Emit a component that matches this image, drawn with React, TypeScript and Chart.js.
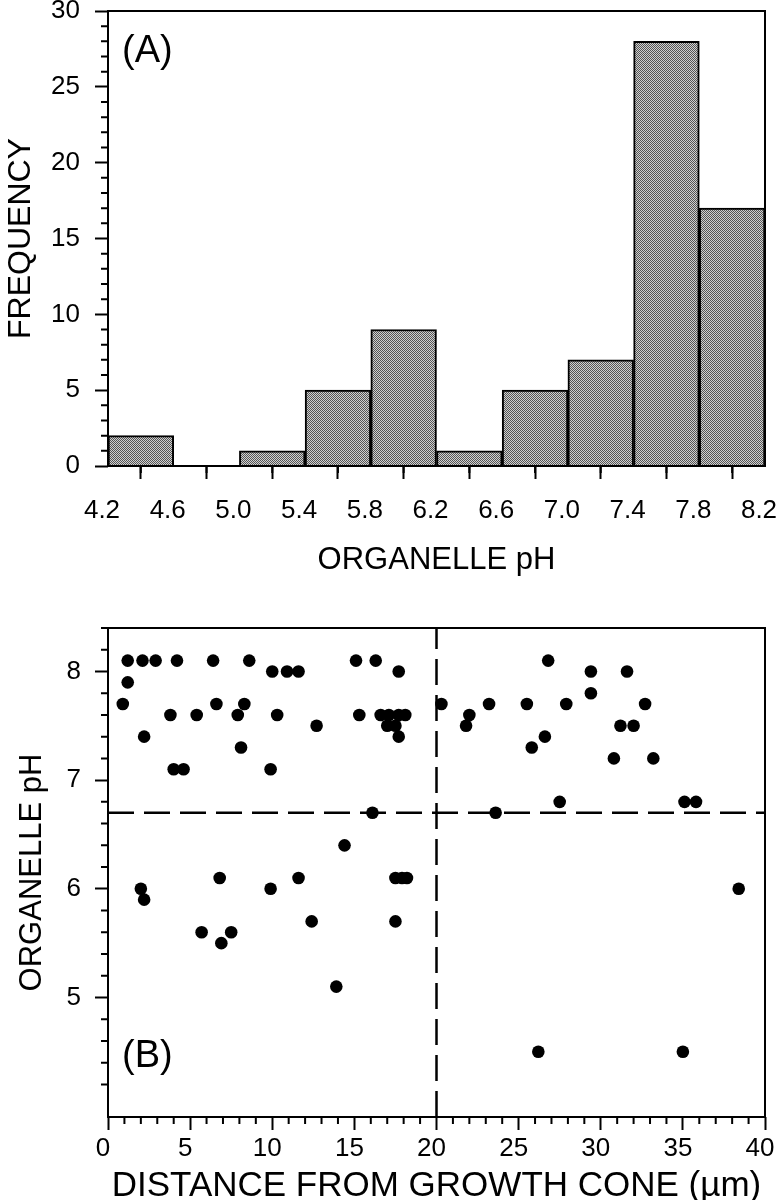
import React, { useEffect, useRef } from "react";
import { Chart, registerables } from "chart.js";

Chart.register(...registerables);

const FONT_FAMILY = "'Liberation Sans', Arial, Helvetica, sans-serif";

// ---------- Panel A: histogram of organelle pH ----------
const PH_BIN_CENTERS = [4.4, 4.8, 5.2, 5.6, 6.0, 6.4, 6.8, 7.2, 7.6, 8.0];
const FREQUENCY = [2, 0, 1, 5, 9, 1, 5, 7, 28, 17];
const PH_TICKS = [4.2, 4.6, 5.0, 5.4, 5.8, 6.2, 6.6, 7.0, 7.4, 7.8, 8.2];
const FREQ_TICKS = [0, 5, 10, 15, 20, 25, 30];

// ---------- Panel B: pH vs distance from growth cone ----------
const DISTANCE_UM = [
  1.2, 2.1, 2.9, 4.2, 6.4, 8.6, 15.1, 16.3, 10.0, 10.9,
  11.6, 17.7, 1.2, 0.9, 3.8, 5.4, 6.6, 7.9, 8.3, 10.3,
  12.7, 15.3, 16.6, 17.1, 17.7, 18.1, 17.0, 17.5, 17.7, 2.2,
  8.1, 4.0, 4.6, 9.9, 16.1, 14.4, 2.0, 2.2, 6.8, 9.9,
  11.6, 17.5, 17.9, 18.2, 5.7, 6.9, 7.5, 12.4, 17.5, 13.9,
  26.8, 29.4, 31.6, 29.4, 20.3, 23.2, 25.5, 27.9, 32.7, 22.0,
  21.8, 26.6, 25.8, 31.2, 32.0, 30.8, 33.2, 27.5, 35.1, 35.8,
  23.6, 38.4, 26.2, 35.0,
];
const ORGANELLE_PH = [
  8.1, 8.1, 8.1, 8.1, 8.1, 8.1, 8.1, 8.1, 8.0, 8.0,
  8.0, 8.0, 7.9, 7.7, 7.6, 7.6, 7.7, 7.6, 7.7, 7.6,
  7.5, 7.6, 7.6, 7.6, 7.6, 7.6, 7.5, 7.5, 7.4, 7.4,
  7.3, 7.1, 7.1, 7.1, 6.7, 6.4, 6.0, 5.9, 6.1, 6.0,
  6.1, 6.1, 6.1, 6.1, 5.6, 5.5, 5.6, 5.7, 5.7, 5.1,
  8.1, 8.0, 8.0, 7.8, 7.7, 7.7, 7.7, 7.7, 7.7, 7.6,
  7.5, 7.4, 7.3, 7.5, 7.5, 7.2, 7.2, 6.8, 6.8, 6.8,
  6.7, 6.0, 4.5, 4.5,
];
const DIST_TICKS = [0, 5, 10, 15, 20, 25, 30, 35, 40];
const PH_B_TICKS = [5, 6, 7, 8];
const PH_THRESHOLD = 6.7;
const DIST_THRESHOLD = 20;

function minorTicks(from: number, to: number, step: number, majorEvery: number) {
  const out: number[] = [];
  const n = Math.round((to - from) / step);
  for (let i = 0; i <= n; i++) {
    const v = Math.round((from + i * step) * 1000) / 1000;
    const r = v / majorEvery;
    if (Math.abs(r - Math.round(r)) > 1e-6) out.push(v);
  }
  return out;
}

function decorPlugin(label: string, atTop: boolean, xMinor: number[], yMinor: number[]) {
  return {
    id: "decor",
    afterDraw(chart: any) {
      const { ctx, chartArea: a, scales } = chart;
      ctx.save();
      ctx.strokeStyle = "#000";
      ctx.lineWidth = 2;
      ctx.strokeRect(a.left, a.top, a.right - a.left, a.bottom - a.top);
      ctx.beginPath();
      xMinor.forEach((v) => {
        const px = scales.x.getPixelForValue(v);
        ctx.moveTo(px, a.bottom);
        ctx.lineTo(px, a.bottom + 7);
      });
      yMinor.forEach((v) => {
        const py = scales.y.getPixelForValue(v);
        ctx.moveTo(a.left, py);
        ctx.lineTo(a.left - 7, py);
      });
      ctx.stroke();
      ctx.fillStyle = "#000";
      ctx.font = `38px ${FONT_FAMILY}`;
      ctx.textBaseline = "alphabetic";
      ctx.textAlign = "left";
      ctx.fillText(label, a.left + 14, atTop ? a.top + 51 : a.bottom - 50);
      ctx.restore();
    },
  };
}

function makePattern(ctx: CanvasRenderingContext2D) {
  const pc = document.createElement("canvas");
  pc.width = 4;
  pc.height = 4;
  const p = pc.getContext("2d")!;
  p.fillStyle = "#d0d0d0";
  p.fillRect(0, 0, 4, 4);
  p.fillStyle = "#555555";
  for (let i = 0; i < 4; i++)
    for (let j = 0; j < 4; j++) if ((i + j) % 2 === 0) p.fillRect(i, j, 1, 1);
  return ctx.createPattern(pc, "repeat");
}

const tickGrid = {
  display: true,
  drawOnChartArea: false,
  drawTicks: true,
  tickLength: 13,
  tickWidth: 2,
  tickColor: "#000",
};

export default function App() {
  const refA = useRef<HTMLCanvasElement>(null);
  const refB = useRef<HTMLCanvasElement>(null);

  useEffect(() => {
    const ctxA = refA.current!.getContext("2d")!;
    const pattern = makePattern(ctxA);
    const chartA = new Chart(ctxA, {
      type: "bar",
      data: {
        datasets: [
          {
            data: PH_BIN_CENTERS.map((x, i) => ({ x, y: FREQUENCY[i] })),
            backgroundColor: pattern as any,
            borderColor: "#000",
            borderWidth: 2,
            barPercentage: 1,
            categoryPercentage: 1,
          },
        ],
      },
      options: {
        responsive: false,
        animation: false,
        layout: { padding: { top: 11, right: 11, left: 0, bottom: 0 } },
        plugins: { legend: { display: false }, tooltip: { enabled: false } },
        scales: {
          x: {
            type: "linear",
            min: 4.2,
            max: 8.2,
            offset: false,
            grid: tickGrid,
            border: { display: false },
            afterBuildTicks: (s: any) => {
              s.ticks = PH_TICKS.map((value) => ({ value }));
            },
            afterFit: (s: any) => {
              s.height = 134;
              s.paddingLeft = 0;
              s.paddingRight = 0;
            },
            ticks: {
              autoSkip: false,
              maxRotation: 0,
              padding: 16,
              labelOffset: -6,
              color: "#000",
              font: { family: FONT_FAMILY, size: 26 },
              callback: (v: any) => Number(v).toFixed(1),
            },
            title: {
              display: true,
              text: "ORGANELLE pH",
              color: "#000",
              font: { family: FONT_FAMILY, size: 31 },
              padding: { top: 0, bottom: 21 },
            },
          },
          y: {
            min: 0,
            max: 30,
            grid: tickGrid,
            border: { display: false },
            afterBuildTicks: (s: any) => {
              s.ticks = FREQ_TICKS.map((value) => ({ value }));
            },
            afterFit: (s: any) => {
              s.width = 108;
              s.paddingTop = 0;
              s.paddingBottom = 0;
            },
            ticks: {
              padding: 15,
              color: "#000",
              font: { family: FONT_FAMILY, size: 26 },
            },
            title: {
              display: true,
              text: "FREQUENCY",
              color: "#000",
              font: { family: FONT_FAMILY, size: 32 },
              padding: { top: 2, bottom: 0 },
            },
          },
        },
      },
      plugins: [decorPlugin("(A)", true, PH_BIN_CENTERS, minorTicks(0, 30, 1, 5))],
    } as any);

    const ctxB = refB.current!.getContext("2d")!;
    const chartB = new Chart(ctxB, {
      type: "scatter",
      data: {
        datasets: [
          {
            data: DISTANCE_UM.map((x, i) => ({ x, y: ORGANELLE_PH[i] })),
            backgroundColor: "#000",
            borderWidth: 0,
            pointRadius: 6.3,
          },
          {
            type: "line",
            data: [
              { x: 0, y: PH_THRESHOLD },
              { x: 40, y: PH_THRESHOLD },
            ],
            borderColor: "#000",
            borderWidth: 2.5,
            borderDash: [26, 10],
            pointRadius: 0,
            showLine: true,
          },
          {
            type: "line",
            data: [
              { x: DIST_THRESHOLD, y: 3.9 },
              { x: DIST_THRESHOLD, y: 8.4 },
            ],
            borderColor: "#000",
            borderWidth: 2.5,
            borderDash: [26, 10],
            pointRadius: 0,
            showLine: true,
          },
        ],
      },
      options: {
        responsive: false,
        animation: false,
        layout: { padding: { top: 28, right: 11, left: 0, bottom: 0 } },
        plugins: { legend: { display: false }, tooltip: { enabled: false } },
        scales: {
          x: {
            type: "linear",
            min: 0,
            max: 40,
            grid: tickGrid,
            border: { display: false },
            afterBuildTicks: (s: any) => {
              s.ticks = DIST_TICKS.map((value) => ({ value }));
            },
            afterFit: (s: any) => {
              s.height = 103;
              s.paddingLeft = 0;
              s.paddingRight = 0;
            },
            ticks: {
              autoSkip: false,
              maxRotation: 0,
              padding: 3,
              labelOffset: -5,
              color: "#000",
              font: { family: FONT_FAMILY, size: 26 },
            },
            title: {
              display: true,
              text: "DISTANCE FROM GROWTH CONE (µm)",
              color: "#000",
              font: { family: FONT_FAMILY, size: 35 },
              padding: { top: 0, bottom: 13 },
            },
          },
          y: {
            min: 3.9,
            max: 8.4,
            grid: tickGrid,
            border: { display: false },
            afterBuildTicks: (s: any) => {
              s.ticks = PH_B_TICKS.map((value) => ({ value }));
            },
            afterFit: (s: any) => {
              s.width = 108;
              s.paddingTop = 0;
              s.paddingBottom = 0;
            },
            ticks: {
              padding: 14,
              color: "#000",
              font: { family: FONT_FAMILY, size: 26 },
            },
            title: {
              display: true,
              text: "ORGANELLE pH",
              color: "#000",
              font: { family: FONT_FAMILY, size: 31 },
              padding: { top: 14, bottom: 0 },
            },
          },
        },
      },
      plugins: [decorPlugin("(B)", false, minorTicks(0, 40, 1, 5), minorTicks(4.0, 8.4, 0.2, 1))],
    } as any);

    return () => {
      chartA.destroy();
      chartB.destroy();
    };
  }, []);

  return (
    <div
      style={{
        position: "absolute",
        left: 0,
        top: 0,
        width: 776,
        height: 1200,
        overflow: "hidden",
        background: "#fff",
      }}
    >
      <canvas
        ref={refA}
        width={776}
        height={600}
        style={{ position: "absolute", left: 0, top: 0, width: 776, height: 600 }}
      />
      <canvas
        ref={refB}
        width={776}
        height={620}
        style={{ position: "absolute", left: 0, top: 600, width: 776, height: 620 }}
      />
    </div>
  );
}
